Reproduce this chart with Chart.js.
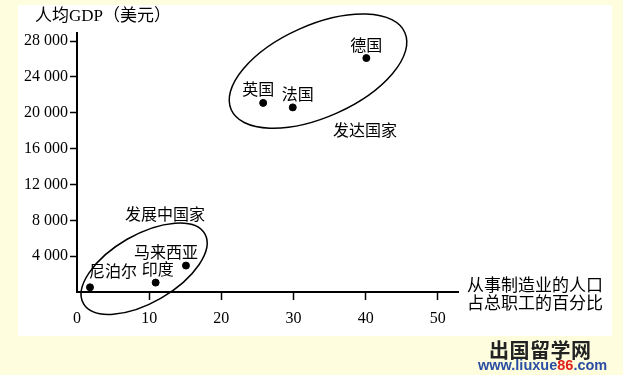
<!DOCTYPE html>
<html>
<head>
<meta charset="utf-8">
<script src="https://cdn.jsdelivr.net/npm/chart.js"></script>
<style>
  html, body { margin: 0; padding: 0; }
  body { width: 623px; height: 375px; background: #fefedf; position: relative; overflow: hidden; }
  #panel { position: absolute; left: 18px; top: 5px; width: 594px; height: 331px; background: #fff; }
  #wrap { position: absolute; left: 0; top: 0; width: 623px; height: 375px; }
  .wm1 { position: absolute; left: 489px; top: 340px; font: bold 20px/20px "Noto Sans CJK SC"; color: #222; letter-spacing: 0.5px; }
  .wm2 { position: absolute; left: 478px; top: 358px; font: bold 14.5px/15px "Liberation Sans", sans-serif; color: #2b4ea3; }
  .wm2 span { color: #e0201b; }
</style>
</head>
<body>
<div id="panel"></div>
<div id="wrap"><canvas id="grafico" width="623" height="375"></canvas></div>
<div class="wm1">出国留学网</div>
<div class="wm2">www.liuxue<span>86</span>.com</div>
<script>
// datos: país, % de empleo en manufactura, PIB per cápita
const paises = ['尼泊尔', '印度', '马来西亚', '英国', '法国', '德国'];
const manufactura = [1.8, 10.9, 15.1, 25.8, 29.9, 40.1];
const pibPerCapita = [520, 1050, 2950, 21100, 20600, 26100];
const ticksX = [0, 10, 20, 30, 40, 50];
const ticksY = [4000, 8000, 12000, 16000, 20000, 24000, 28000];

// desplazamiento de cada etiqueta respecto a su punto (px)
const offsets = [[23, -16], [2, -14], [-20, -14], [-5, -14], [5, -13], [0, -13]];

// elipses de grupo (centro en unidades de datos, radios en px)
const elipses = [
    { cx: 33.4, cy: 24650, rx: 95, ry: 46, ang: -24 },
    { cx: 9.3, cy: 2600, rx: 70, ry: 34, ang: -30 }
];

const fmt = v => {
    const s = String(v);
    return s.length > 3 ? s.slice(0, -3) + ' ' + s.slice(-3) : s;
};

const dibujo = {
    id: 'dibujo',
    afterDatasetsDraw(chart) {
        const ctx = chart.ctx;
        const sx = chart.scales.x, sy = chart.scales.y;
        ctx.save();
        ctx.strokeStyle = '#000';
        ctx.lineWidth = 1.5;
        elipses.forEach(e => {
            ctx.beginPath();
            ctx.ellipse(sx.getPixelForValue(e.cx), sy.getPixelForValue(e.cy), e.rx, e.ry, e.ang * Math.PI / 180, 0, Math.PI * 2);
            ctx.stroke();
        });
        ctx.fillStyle = '#000';
        ctx.textAlign = 'center';
        ctx.textBaseline = 'middle';
        ctx.font = '16px "Noto Sans CJK SC"';
        const meta = chart.getDatasetMeta(0);
        meta.data.forEach((p, i) => {
            ctx.fillText(paises[i], p.x + offsets[i][0], p.y + offsets[i][1]);
        });
        ctx.font = '16px "Noto Sans CJK SC"';
        ctx.fillText('发达国家', 365, 130);
        ctx.fillText('发展中国家', 165, 214);
        // títulos de ejes
        ctx.textAlign = 'left';
        ctx.font = '17px "Noto Sans CJK SC"';
        ctx.fillText('从事制造业的人口', 467, 285);
        ctx.fillText('占总职工的百分比', 467, 303);
        ctx.font = '17px "Liberation Serif", "Noto Sans CJK SC"';
        ctx.fillText('人均GDP（美元）', 35, 17);
        ctx.restore();
    }
};

const ctx = document.getElementById('grafico').getContext('2d');
new Chart(ctx, {
    type: 'scatter',
    data: {
        datasets: [{
            data: manufactura.map((x, i) => ({ x: x, y: pibPerCapita[i] })),
            backgroundColor: '#000',
            borderColor: '#000',
            pointRadius: 3.5,
            pointHoverRadius: 3.5
        }]
    },
    options: {
        responsive: false,
        animation: false,
        layout: { padding: { left: 0, top: 33, right: 165, bottom: 43 } },
        plugins: { legend: { display: false }, tooltip: { enabled: false } },
        scales: {
            x: {
                type: 'linear',
                min: 0,
                max: 52.8,
                afterBuildTicks: s => { s.ticks = ticksX.map(v => ({ value: v })); },
                afterFit: s => { s.height = 40; },
                border: { color: '#000', width: 2 },
                grid: {
                    drawOnChartArea: false,
                    tickLength: 8,
                    tickWidth: 1.5,
                    tickColor: c => (c.tick && c.tick.value === 0) ? 'rgba(0,0,0,0)' : '#000'
                },
                ticks: {
                    color: '#000',
                    padding: 9,
                    maxRotation: 0,
                    font: { family: '"Liberation Serif"', size: 16 }
                }
            },
            y: {
                type: 'linear',
                min: 0,
                max: 28900,
                afterBuildTicks: s => { s.ticks = ticksY.map(v => ({ value: v })); },
                afterFit: s => { s.width = 77; },
                border: { color: '#000', width: 2 },
                grid: { drawOnChartArea: false, tickLength: 7, tickWidth: 1.5, tickColor: '#000' },
                ticks: {
                    color: '#000',
                    padding: 2,
                    callback: v => fmt(v),
                    font: { family: '"Liberation Serif"', size: 16 }
                }
            }
        }
    },
    plugins: [dibujo]
});
</script>
</body>
</html>
